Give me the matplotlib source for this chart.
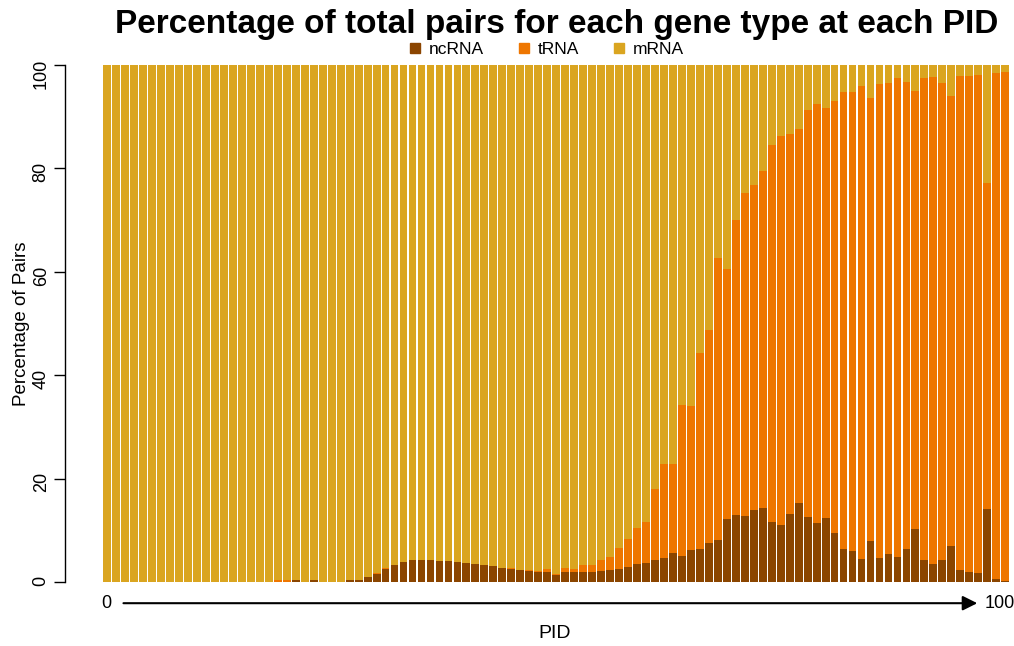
import numpy as np
import matplotlib.pyplot as plt
from matplotlib.lines import Line2D

plt.rcParams['font.family'] = ['Liberation Sans', 'DejaVu Sans']

# PID 0..100, percentage of pairs per gene type
pid = np.arange(0, 101)

ncrna = [0.0] * 21 + [0.3, 0.0, 0.3, 0.0, 0.0, 0.0,
         0.3, 0.45, 1.0, 1.55, 2.5, 3.3, 3.9, 4.3, 4.3, 4.3, 4.1, 4.1, 3.9, 3.7,
         3.5, 3.3, 3.1, 2.7, 2.5, 2.3, 2.1, 1.9, 1.9, 1.35, 1.9, 1.9, 1.9, 1.9,
         2.1, 2.3, 2.5, 2.9, 3.5, 3.7, 4.2, 4.6, 5.6, 5.0, 6.1, 6.3, 7.5, 8.1,
         12.1, 12.9, 12.7, 13.9, 14.3, 11.7, 11.1, 13.1, 15.2, 12.5, 11.5, 12.3,
         9.5, 6.3, 5.9, 4.4, 7.9, 4.6, 5.4, 4.8, 6.3, 10.2, 4.2, 3.5, 4.2, 6.9,
         2.3, 1.9, 1.7, 14.1, 0.6, 0.2]

trna = [0.0] * 19 + [0.3, 0.3] + [0.0] * 9 + [0.2, 0.2] + [0.0] * 13 + [
        0.2, 0.0, 0.2, 0.2, 0.6, 0.2, 0.8, 0.6, 1.4, 1.4, 2.2, 2.5, 4.1, 5.4,
        6.9, 8.0, 13.7, 18.2, 17.3, 29.3, 28.0, 38.0, 41.3, 54.5, 48.5, 57.1,
        62.5, 62.8, 65.2, 72.8, 75.1, 73.5, 72.5, 78.7, 80.9, 79.3, 83.5, 88.4,
        88.8, 91.6, 85.8, 91.8, 91.2, 92.6, 90.5, 84.7, 93.2, 94.1, 92.4, 87.2,
        95.5, 95.9, 96.3, 63.0, 97.8, 98.5]

ncrna = np.array(ncrna)
trna = np.array(trna)
mrna = 100 - ncrna - trna

labels = ['ncRNA', 'tRNA', 'mRNA']
colors = ['#8B4500', '#EE7600', '#DAA520']

fig = plt.figure(figsize=(10.14, 6.46), dpi=100)
ax = fig.add_axes([65 / 1014, 64 / 646, 949 / 1014, 517 / 646])

w = 0.87
ax.bar(pid, ncrna, width=w, color=colors[0], linewidth=0)
ax.bar(pid, trna, width=w, bottom=ncrna, color=colors[1], linewidth=0)
ax.bar(pid, mrna, width=w, bottom=ncrna + trna, color=colors[2], linewidth=0)

ax.set_xlim(-4.7, 100.98)
ax.set_ylim(0, 100)
ax.set_xticks([])
ax.set_yticks(np.arange(0, 101, 20))
ax.tick_params(axis='y', labelrotation=90, labelsize=13, length=8, width=1, pad=3)
for s in ['top', 'right', 'bottom']:
    ax.spines[s].set_visible(False)
ax.spines['left'].set_linewidth(1)

ax.set_ylabel('Percentage of Pairs', fontsize=13.5, labelpad=2)

# PID direction arrow under the bars
ax.annotate('', xy=(pid[-1] - 2.8, -0.041), xytext=(pid[0] + 1.5, -0.041),
            xycoords=('data', 'axes fraction'), textcoords=('data', 'axes fraction'),
            arrowprops=dict(arrowstyle='-|>', color='black', lw=1.5, mutation_scale=22))
ax.text(pid[0] - 0.1, -0.041, str(pid[0]), transform=ax.get_xaxis_transform(),
        ha='center', va='center', fontsize=13)
ax.text(pid[-1] - 0.6, -0.041, str(pid[-1]), transform=ax.get_xaxis_transform(),
        ha='center', va='center', fontsize=13)
fig.text(555 / 1014, 1 - 633 / 646, 'PID', ha='center', va='center', fontsize=14)

fig.text(557 / 1014, 1 - 24 / 646, 'Percentage of total pairs for each gene type at each PID',
         ha='center', va='center', fontsize=24.0, fontweight='bold')

handles = [Line2D([], [], marker='s', linestyle='', color=c, markersize=7) for c in colors]
fig.legend(handles, labels, loc='center', bbox_to_anchor=(545 / 1014, 1 - 49 / 646),
           ncol=3, frameon=False, fontsize=12.5, handletextpad=0.3, columnspacing=1.8,
           handlelength=1.0, borderpad=0)

fig.savefig('out.png', dpi=100)
